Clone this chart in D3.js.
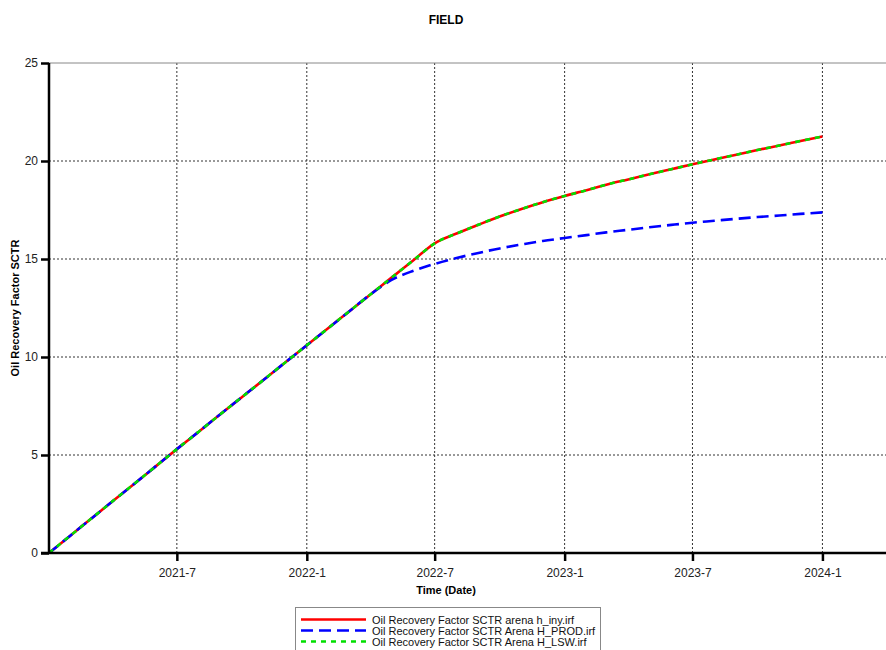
<!DOCTYPE html>
<html>
<head>
<meta charset="utf-8">
<script src="https://cdn.jsdelivr.net/npm/d3@7"></script>
<style>
  html, body { margin: 0; padding: 0; background: #fff; }
  svg { display: block; font-family: "Liberation Sans", Arial, sans-serif; }
</style>
</head>
<body>
<svg id="chart" width="886" height="650"></svg>
<script>
// Monthly dates, Jan 2021 .. Jan 2024
const months = [
  "2021-01","2021-02","2021-03","2021-04","2021-05","2021-06","2021-07","2021-08","2021-09","2021-10","2021-11","2021-12",
  "2022-01","2022-02","2022-03","2022-04","2022-05","2022-06","2022-07","2022-08","2022-09","2022-10","2022-11","2022-12",
  "2023-01","2023-02","2023-03","2023-04","2023-05","2023-06","2023-07","2023-08","2023-09","2023-10","2023-11","2023-12",
  "2024-01"
];

// Oil recovery factor (%) per case
const hIny = [
  0, 0.91, 1.73, 2.64, 3.51, 4.42, 5.3, 6.19, 7.09, 7.95, 8.84, 9.71,
  10.6, 11.49, 12.3, 13.19, 14.05, 14.94, 15.8, 16.3, 16.75, 17.17, 17.55, 17.9,
  18.22, 18.51, 18.79, 19.06, 19.32, 19.58, 19.83, 20.08, 20.32, 20.56, 20.79, 21.02,
  21.25
];
const hProd = [
  0, 0.91, 1.73, 2.64, 3.51, 4.42, 5.3, 6.19, 7.09, 7.95, 8.84, 9.71,
  10.6, 11.49, 12.3, 13.19, 13.93, 14.4, 14.75, 15.05, 15.31, 15.54, 15.74, 15.92,
  16.07, 16.22, 16.36, 16.49, 16.62, 16.74, 16.85, 16.95, 17.05, 17.14, 17.22, 17.3,
  17.38
];
const hLsw = [
  0, 0.91, 1.73, 2.64, 3.51, 4.42, 5.3, 6.19, 7.09, 7.95, 8.84, 9.71,
  10.6, 11.49, 12.3, 13.19, 14.05, 14.94, 15.8, 16.3, 16.75, 17.17, 17.55, 17.9,
  18.22, 18.51, 18.79, 19.06, 19.32, 19.58, 19.83, 20.08, 20.32, 20.56, 20.79, 21.02,
  21.25
];

const yTicks = [0, 5, 10, 15, 20, 25];
const xTickLabels = ["2021-7", "2022-1", "2022-7", "2023-1", "2023-7", "2024-1"];

const seriesNames = [
  "Oil Recovery Factor SCTR arena h_iny.irf",
  "Oil Recovery Factor SCTR Arena H_PROD.irf",
  "Oil Recovery Factor SCTR Arena H_LSW.irf"
];

const parseMonth = d3.timeParse("%Y-%m");
const dates = months.map(parseMonth);

const styles = [
  { color: "#ff0000", dash: null, width: 2.6 },
  { color: "#0000ff", dash: "12,6", width: 2.6 },
  { color: "#00e000", dash: "5,5", width: 2.6 }
];
const series = [hIny, hProd, hLsw].map((vals, i) => ({
  name: seriesNames[i],
  style: styles[i],
  points: vals.map((v, j) => ({ date: dates[j], value: v }))
}));

const svg = d3.select("#chart");
const W = 886;
const plotLeft = 49, plotTop = 63, plotBottom = 553;

const x = d3.scaleTime()
  .domain([new Date(2021, 0, 1), new Date(2024, 2, 31)])
  .range([plotLeft, W]);
const y = d3.scaleLinear().domain([0, 25]).range([plotBottom, plotTop]);

const xTickDates = xTickLabels.map(s => d3.timeParse("%Y-%m")(s));

// Title
svg.append("text")
  .attr("x", 446).attr("y", 24)
  .attr("text-anchor", "middle")
  .attr("font-size", 12).attr("font-weight", "bold")
  .attr("fill", "#000")
  .text("FIELD");

// Grid
const grid = svg.append("g");
grid.selectAll("line.gx").data(xTickDates).join("line")
  .attr("x1", d => x(d)).attr("x2", d => x(d))
  .attr("y1", plotTop).attr("y2", plotBottom)
  .attr("stroke", "#333").attr("stroke-width", 1).attr("stroke-dasharray", "2,2");
grid.selectAll("line.gy").data(yTicks.filter(t => t > 0 && t < 25)).join("line")
  .attr("x1", plotLeft).attr("x2", W)
  .attr("y1", d => y(d)).attr("y2", d => y(d))
  .attr("stroke", "#333").attr("stroke-width", 1).attr("stroke-dasharray", "2,2");

// Top frame line
svg.append("line")
  .attr("x1", plotLeft).attr("x2", W)
  .attr("y1", y(25)).attr("y2", y(25))
  .attr("stroke", "#888").attr("stroke-width", 1);

// Series lines
const line = d3.line().x(d => x(d.date)).y(d => y(d.value)).curve(d3.curveMonotoneX);
const plot = svg.append("g");
series.forEach(s => {
  plot.append("path")
    .datum(s.points)
    .attr("d", line)
    .attr("fill", "none")
    .attr("stroke", s.style.color)
    .attr("stroke-width", s.style.width)
    .attr("stroke-dasharray", s.style.dash);
});

// Axes
const yAxis = d3.axisLeft(y).tickValues(yTicks).tickSize(8).tickPadding(3);
const gy = svg.append("g").attr("transform", `translate(${plotLeft},0)`).call(yAxis);
gy.select(".domain").remove();
gy.selectAll(".tick line").attr("stroke", "#000").attr("stroke-width", 2.5);
gy.selectAll(".tick text").attr("font-size", 12).attr("fill", "#222")
  .attr("font-family", "Liberation Sans, Arial, sans-serif");

const xAxis = d3.axisBottom(x).tickValues(xTickDates)
  .tickFormat((d, i) => xTickLabels[i]).tickSize(8).tickPadding(7);
const gx = svg.append("g").attr("transform", `translate(0,${plotBottom})`).call(xAxis);
gx.select(".domain").remove();
gx.selectAll(".tick line").attr("stroke", "#000").attr("stroke-width", 2.5);
gx.selectAll(".tick text").attr("font-size", 12).attr("fill", "#222")
  .attr("font-family", "Liberation Sans, Arial, sans-serif");

// Axis lines
svg.append("line")
  .attr("x1", plotLeft).attr("x2", plotLeft).attr("y1", plotTop).attr("y2", plotBottom + 1)
  .attr("stroke", "#000").attr("stroke-width", 2.5);
svg.append("line")
  .attr("x1", plotLeft - 8).attr("x2", W).attr("y1", plotBottom).attr("y2", plotBottom)
  .attr("stroke", "#000").attr("stroke-width", 2.5);

// Axis titles
svg.append("text")
  .attr("x", 446).attr("y", 594)
  .attr("text-anchor", "middle")
  .attr("font-size", 11).attr("font-weight", "bold")
  .text("Time (Date)");
svg.append("text")
  .attr("transform", "translate(19,308) rotate(-90)")
  .attr("text-anchor", "middle")
  .attr("font-size", 11).attr("font-weight", "bold")
  .text("Oil Recovery Factor SCTR");

// Legend
const legend = svg.append("g");
legend.append("rect")
  .attr("x", 295.5).attr("y", 607.5).attr("width", 305).attr("height", 60)
  .attr("fill", "#fff").attr("stroke", "#888").attr("stroke-width", 1);
series.forEach((s, i) => {
  const ly = 619.5 + i * 11;
  legend.append("line")
    .attr("x1", 301).attr("x2", 366).attr("y1", ly).attr("y2", ly)
    .attr("stroke", s.style.color).attr("stroke-width", 2.6)
    .attr("stroke-dasharray", s.style.dash);
  legend.append("text")
    .attr("x", 372).attr("y", ly + 4)
    .attr("font-size", 11).attr("fill", "#111")
    .text(s.name);
});
</script>
</body>
</html>
